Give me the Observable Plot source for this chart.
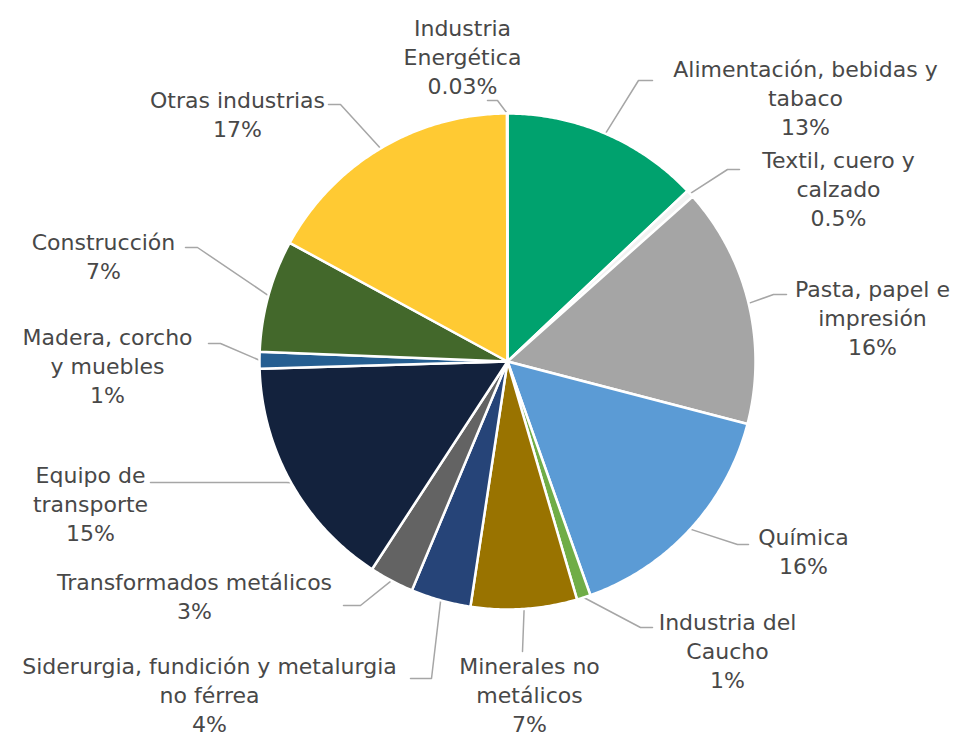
<!DOCTYPE html>
<html>
<head>
<meta charset="utf-8">
<script src="https://cdn.jsdelivr.net/npm/d3@7"></script>
<script src="https://cdn.jsdelivr.net/npm/@observablehq/plot@0.6"></script>
<style>
  html, body { margin: 0; padding: 0; background: #fff; }
  #chart { width: 964px; height: 736px; }
</style>
</head>
<body>
<div id="chart"></div>
<script>
// ---- Data ----
const categories = [
  "Alimentación, bebidas y tabaco",
  "Textil, cuero y calzado",
  "Pasta, papel e impresión",
  "Química",
  "Industria del Caucho",
  "Minerales no metálicos",
  "Siderurgia, fundición y metalurgia no férrea",
  "Transformados metálicos",
  "Equipo de transporte",
  "Madera, corcho y muebles",
  "Construcción",
  "Otras industrias",
  "Industria Energética"
];
const shares = [12.9, 0.5, 15.6, 15.5, 0.9, 6.9, 3.9, 2.9, 15.3, 1.1, 7.3, 17.0, 0.03];
const pctLabels = ["13%", "0.5%", "16%", "16%", "1%", "7%", "4%", "3%", "15%", "1%", "7%", "17%", "0.03%"];
const labelLines = [
  ["Alimentación, bebidas y", "tabaco"],
  ["Textil, cuero y", "calzado"],
  ["Pasta, papel e", "impresión"],
  ["Química"],
  ["Industria del", "Caucho"],
  ["Minerales no", "metálicos"],
  ["Siderurgia, fundición y metalurgia", "no férrea"],
  ["Transformados metálicos"],
  ["Equipo de", "transporte"],
  ["Madera, corcho", "y muebles"],
  ["Construcción"],
  ["Otras industrias"],
  ["Industria", "Energética"]
];

// ---- Styles ----
const colors = ["#00A26E", "#F2F2F2", "#A5A5A5", "#5B9BD5", "#70AD47", "#997300",
                "#264478", "#636363", "#13223D", "#255E91", "#43682B", "#FFCA33", "#4472C4"];

// ---- Layout (pixel space) ----
const W = 964, H = 736, CX = 507, CY = 361, R = 248;
const labelX = [805, 838, 872, 803, 727, 529, 209, 194, 90, 107, 103, 237, 462];
const labelY = [96, 187, 316, 550, 649, 693, 693, 595, 502, 364, 255, 113, 55];
const elbowPt = [[638, 80], [727, 169], [773, 294], [737, 544], [640, 627], [522, 651],
                 [431, 678], [360, 605], [286, 482], [220, 343], [197, 247], [340, 104], [497, 100]];
const endX = [652, 739, 786, 748, 652, 522, 410, 343, 150, 208, 185, 328, 487];

// ---- Build geometry from data ----
const arcs = d3.pie().sort(null).value(d => d)(shares);
const pt = (a, r) => [CX + r * Math.sin(a), CY - r * Math.cos(a)];

const slicePts = [];
arcs.forEach((a, i) => {
  const name = categories[i];
  slicePts.push({name, x: CX, y: CY});
  const n = Math.max(2, Math.ceil((a.endAngle - a.startAngle) / (Math.PI / 360)));
  for (let k = 0; k <= n; k++) {
    const ang = a.startAngle + (a.endAngle - a.startAngle) * k / n;
    const [x, y] = pt(ang, R);
    slicePts.push({name, x, y});
  }
});

const leaderPts = [];
arcs.forEach((a, i) => {
  const mid = (a.startAngle + a.endAngle) / 2;
  const [x0, y0] = pt(mid, R);
  const name = categories[i];
  leaderPts.push({name, x: x0, y: y0});
  leaderPts.push({name, x: elbowPt[i][0], y: elbowPt[i][1]});
  leaderPts.push({name, x: endX[i], y: elbowPt[i][1]});
});

const labelRows = categories.map((c, i) => ({
  name: c,
  x: labelX[i],
  y: labelY[i],
  text: labelLines[i].concat([pctLabels[i]]).join("\n")
}));

const chart = Plot.plot({
  width: W,
  height: H,
  margin: 0,
  x: {domain: [0, W], range: [0, W], axis: null},
  y: {domain: [0, H], range: [0, H], axis: null},
  color: {domain: categories, range: colors},
  style: {background: "#fff"},
  marks: [
    Plot.line(leaderPts, {x: "x", y: "y", z: "name", stroke: "#A6A6A6", strokeWidth: 1.5}),
    Plot.line(slicePts, {x: "x", y: "y", z: "name", fill: "name", stroke: "white",
                         strokeWidth: 2.5, strokeLinejoin: "round", curve: "linear-closed"}),
    Plot.text(labelRows, {x: "x", y: "y", text: "text", textAnchor: "middle", lineAnchor: "middle",
                          lineHeight: 1.31, fontSize: 22, fill: "#484848",
                          fontFamily: "'DejaVu Sans', sans-serif"})
  ]
});
document.getElementById("chart").appendChild(chart);
</script>
</body>
</html>
